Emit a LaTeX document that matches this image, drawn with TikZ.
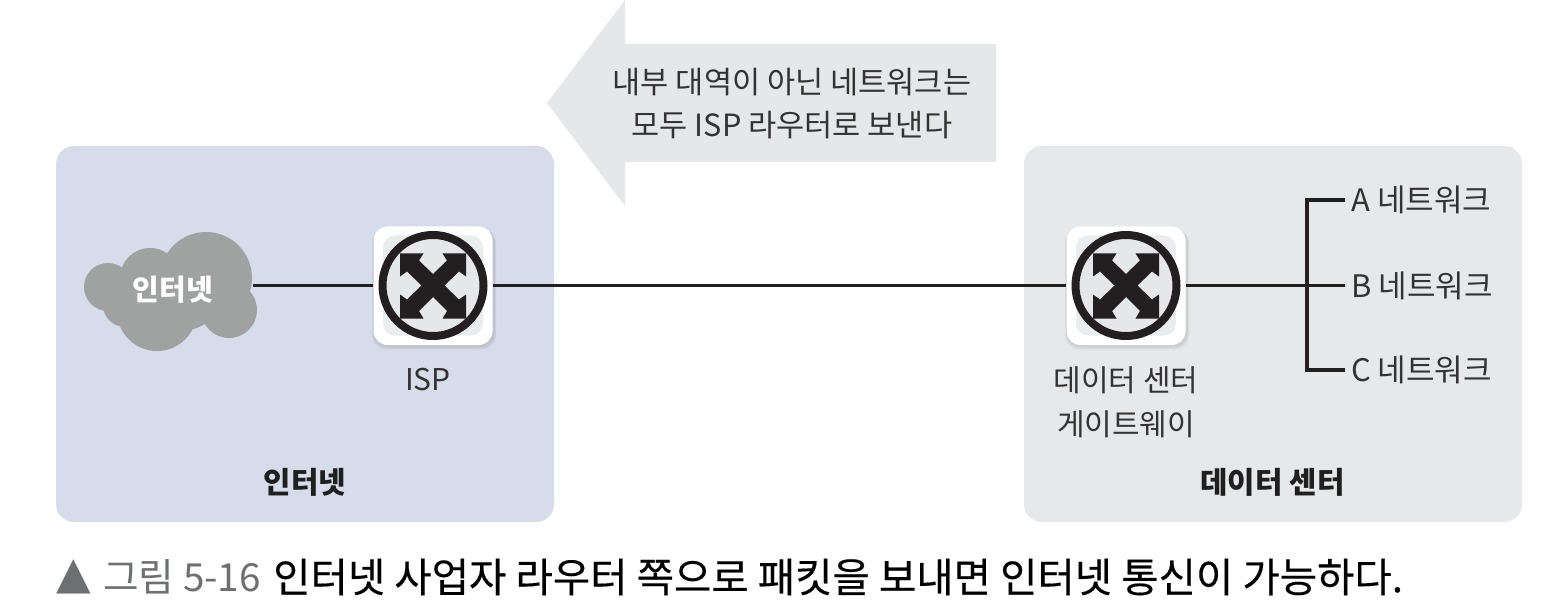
\documentclass[tikz,border=0pt]{standalone}
\usepackage{fontspec}
\setmainfont{Noto Sans CJK KR}
\newfontfamily\captionfont[FakeBold=0.35]{Noto Sans CJK KR}
\newfontfamily\shapefont{DejaVu Sans}
\definecolor{inetpanel}{HTML}{D6DCE9}
\definecolor{dcpanel}{HTML}{E7E8EA}
\definecolor{arrowgrey}{HTML}{E6E7E9}
\definecolor{cloudgrey}{HTML}{A0A2A2}
\definecolor{inkline}{HTML}{231F20}
\definecolor{labelink}{HTML}{333333}
\definecolor{captiongrey}{HTML}{6E6F72}
\newcommand{\fs}[2]{\fontsize{#1}{#2}\selectfont}
\newcommand{\routericon}[1]{%
  \begin{scope}[shift={(#1)}]
    \fill[black,opacity=.05,rounded corners=15pt] (-61,-57) rectangle (63,64);
    \fill[black,opacity=.06,rounded corners=14pt] (-60,-57) rectangle (62,62);
    \fill[white,rounded corners=14pt] (-59.5,-59) rectangle (59.5,59.5);
    \fill[arrowgrey!80!white,rounded corners=12pt] (-50,-50) rectangle (50,50);
    \draw[inkline,line width=8pt,fill=arrowgrey] (0,0) circle (50.5);
    \fill[inkline] (-33,-32)--(-9.5,-32)--(-14,-25)--(0,-11.5)--(14,-25)--(9.5,-32)--(33,-32)--(33,-9)--(26,-14)--(11.5,0)--(26,14)--(33,9)--(33,33)--(9.5,33)--(14,25.5)--(0,11.5)--(-14,25.5)--(-9.5,33)--(-33,33)--(-33,9)--(-26,14)--(-11.5,0)--(-26,-14)--(-33,-9)--cycle;
  \end{scope}}
\tikzset{
  panel/.style={rounded corners=18pt},
  link/.style={draw=inkline,line width=3.3pt},
  routerbox/.style={minimum width=119pt,minimum height=119pt,inner sep=0pt},
  label/.style={text=labelink,inner sep=0pt,font=\fs{30}{44},align=center},
  netlabel/.style={text=labelink,inner sep=0pt,font=\fs{31}{36},anchor=west},
  boldlabel/.style={text=black!88,inner sep=0pt,font=\fs{29.8}{36}\bfseries},
}
\begin{document}
\begin{tikzpicture}[x=1pt,y=-1pt]
\useasboundingbox (0,0) rectangle (1552,612);
\fill[white] (0,0) rectangle (1552,612);
% panels
\fill[inetpanel,panel] (56,146) rectangle (554,522);
\fill[dcpanel,panel] (1024,146) rectangle (1522,522);
% big arrow
\fill[arrowgrey] (547,103)--(625,0)--(625,44)--(996,44)--(996,162)--(625,162)--(625,206)--cycle;
\node[label,font=\fs{30.6}{43}] (msg) at (792,104) {내부 대역이 아닌 네트워크는\\모두 ISP 라우터로 보낸다};
% cloud
\fill[cloudgrey] (108,287) circle (24) (150,278) circle (30) (206,278) circle (46)
  (229,310) circle (28) (157,311) circle (40) (185,295) circle (35) (125,305) circle (22);
\node[inner sep=0pt,minimum width=160pt,minimum height=60pt,text=white,font=\fs{29}{36}\bfseries] (cloud) at (173,290) {인터넷};
\coordinate (cloudport) at (253,285.5);
% routers
\routericon{433,285.5}
\routericon{1126,285.5}
\node[routerbox] (isp) at (433,285.5) {};
\node[routerbox] (gw) at (1126,285.5) {};
\node[label] (isplabel) at (428,380) {ISP};
\node[label] (gwlabel) at (1126,402) {데이터 센터\\게이트웨이};
% networks
\node[netlabel,inner xsep=6pt] (neta) at (1345,200) {A 네트워크};
\node[netlabel,inner xsep=6pt] (netb) at (1345,285.5) {B 네트워크};
\node[netlabel,inner xsep=6pt] (netc) at (1345,370) {C 네트워크};
\coordinate (bus) at (1307,285.5);
% connectors
\draw[link] (cloudport) -- (isp.west);
\draw[link] (isp.east) -- (gw.west);
\draw[link] (gw.east) -- (netb.west);
\draw[link] (neta.west) -| (bus) |- (netc.west);
% panel titles
\node[boldlabel] (inettitle) at (305,482) {인터넷};
\node[boldlabel] (dctitle) at (1272.5,482) {데이터 센터};
% caption
\node[inner sep=0pt,anchor=west,text=captiongrey,font=\shapefont\fs{45}{48}] (captri) at (56,577) {▲};
\node[inner sep=0pt,anchor=west,text=captiongrey,font=\fs{38.7}{44}] (capnum) at (103,577) {그림 5-16};
\node[inner sep=0pt,anchor=west,text=black,font=\captionfont\fs{40.6}{48}] (captext) at (273,577) {인터넷 사업자 라우터 쪽으로 패킷을 보내면 인터넷 통신이 가능하다.};
\end{tikzpicture}
\end{document}
